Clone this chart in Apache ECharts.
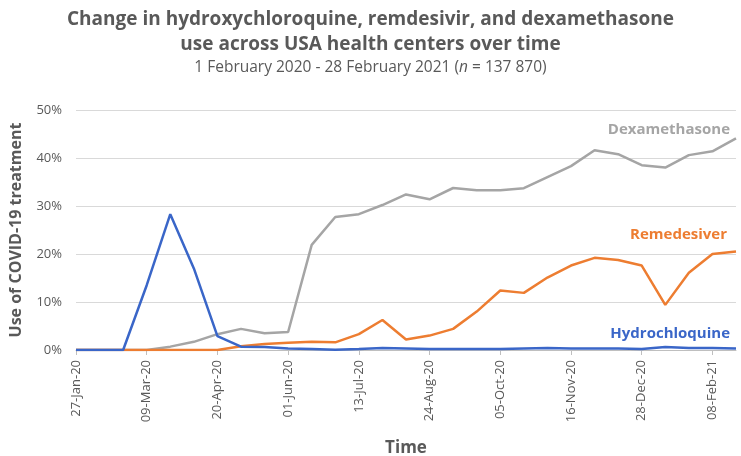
<!DOCTYPE html>
<html>
<head>
<meta charset="utf-8">
<script src="https://cdn.jsdelivr.net/npm/echarts@6/dist/echarts.min.js"></script>
<style>
  html, body { margin: 0; padding: 0; background: #fff; }
  #main { width: 741px; height: 456px; }
</style>
</head>
<body>
<div id="main"></div>
<script>
// biweekly dates
var dates = ['27-Jan-20', '10-Feb-20', '24-Feb-20', '09-Mar-20', '23-Mar-20', '06-Apr-20', '20-Apr-20',
  '04-May-20', '18-May-20', '01-Jun-20', '15-Jun-20', '29-Jun-20', '13-Jul-20', '27-Jul-20',
  '10-Aug-20', '24-Aug-20', '07-Sep-20', '21-Sep-20', '05-Oct-20', '19-Oct-20', '02-Nov-20',
  '16-Nov-20', '30-Nov-20', '14-Dec-20', '28-Dec-20', '11-Jan-21', '25-Jan-21', '08-Feb-21', '22-Feb-21']

// % of patients
var hydroxychloroquine = [0, 0, 0, 13.5, 28.3, 17.0, 2.9, 0.7, 0.6, 0.3, 0.2, 0.05, 0.2, 0.4,
  0.3, 0.2, 0.2, 0.2, 0.2, 0.3, 0.4, 0.3, 0.3, 0.3, 0.2, 0.6, 0.4, 0.4, 0.3]
var remdesivir = [0, 0, 0, 0, 0, 0, 0, 0.8, 1.25, 1.5, 1.7, 1.6, 3.3, 6.25,
  2.2, 3.0, 4.4, 8.0, 12.4, 11.9, 15.1, 17.6, 19.2, 18.75, 17.6, 9.4, 16.1, 20.0, 20.5]
var dexamethasone = [0, 0, 0, 0, 0.7, 1.7, 3.3, 4.4, 3.5, 3.75, 21.9, 27.7, 28.3, 30.2,
  32.4, 31.4, 33.75, 33.3, 33.3, 33.7, 36.0, 38.3, 41.6, 40.8, 38.5, 38.0, 40.6, 41.4, 44.1]

var yTicks = [0, 10, 20, 30, 40, 50]

var font = '"Open Sans", "Noto Sans", sans-serif'
var grey = '#595959'

var chart = echarts.init(document.getElementById('main'))
var option = {
  animation: false,
  textStyle: { fontFamily: font },
  title: [
    {
      text: 'Change in hydroxychloroquine, remdesivir, and dexamethasone\nuse across USA health centers over time',
      left: 'center',
      top: 2,
      textStyle: { fontSize: 19, fontWeight: 'bold', color: grey, lineHeight: 25, fontFamily: font }
    },
    {
      text: '1 February 2020 - 28 February 2021 ({i|n} = 137 870)',
      left: 'center',
      top: 55,
      textStyle: {
        fontSize: 15.5, fontWeight: 'normal', color: grey, fontFamily: font,
        rich: { i: { fontStyle: 'italic', fontSize: 15.5, color: grey, fontFamily: font } }
      }
    }
  ],
  grid: { left: 76, right: 5, top: 110, bottom: 106, outerBoundsMode: 'none', containLabel: false },
  xAxis: {
    type: 'category',
    data: dates,
    boundaryGap: false,
    name: 'Time',
    nameLocation: 'middle',
    nameGap: 90,
    nameTextStyle: { fontSize: 17, fontWeight: 'bold', color: grey },
    axisLine: { lineStyle: { color: '#BFBFBF', width: 1 } },
    axisTick: { show: true, interval: 2, length: 5, lineStyle: { color: '#BFBFBF' } },
    axisLabel: { interval: 2, rotate: 90, color: grey, fontSize: 13, margin: 10 },
    splitLine: { show: false }
  },
  yAxis: {
    type: 'value',
    min: yTicks[0],
    max: yTicks[yTicks.length - 1],
    interval: 10,
    name: 'Use of COVID-19 treatment',
    nameLocation: 'middle',
    nameGap: 52,
    nameTextStyle: { fontSize: 16, fontWeight: 'bold', color: grey },
    axisLine: { show: false },
    axisTick: { show: false },
    axisLabel: { formatter: '{value}%', color: grey, fontSize: 13, margin: 14 },
    splitLine: { lineStyle: { color: '#D9D9D9', width: 1 } }
  },
  series: [
    {
      name: 'Dexamethasone',
      type: 'line',
      data: dexamethasone,
      symbol: 'none',
      lineStyle: { color: '#A5A5A5', width: 2.5 },
      z: 2
    },
    {
      name: 'Remedesiver',
      type: 'line',
      data: remdesivir,
      symbol: 'none',
      lineStyle: { color: '#ED7D31', width: 2.5 },
      z: 3
    },
    {
      name: 'Hydrochloquine',
      type: 'line',
      data: hydroxychloroquine,
      symbol: 'none',
      lineStyle: { color: '#3A66C8', width: 2.5 },
      z: 4
    }
  ],
  graphic: [
    { type: 'text', right: 11, top: 122, style: { text: 'Dexamethasone', fill: '#A5A5A5', font: 'bold 15px ' + font } },
    { type: 'text', right: 14, top: 227, style: { text: 'Remedesiver', fill: '#ED7D31', font: 'bold 15px ' + font } },
    { type: 'text', right: 11, top: 326, style: { text: 'Hydrochloquine', fill: '#3A66C8', font: 'bold 15px ' + font } }
  ]
}
chart.setOption(option)
</script>
</body>
</html>
